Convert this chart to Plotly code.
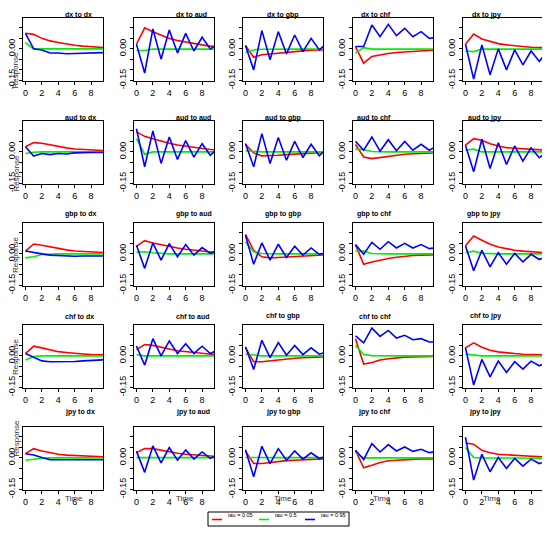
import plotly.graph_objects as go

# horizon 0..10 (the panels clip just past 9)
steps = list(range(11))
names = ["dx", "aud", "gbp", "chf", "jpy"]
taus = ["tau = 0.05", "tau = 0.5", "tau = 0.95"]
y_ticks = [-0.15, -0.10, -0.05, 0.00, 0.05, 0.10]
y_ticktext = ["-0.15", "", "", "0.00", "", ""]
x_ticks = [0, 2, 4, 6, 8]

# responses of each variable (columns) to a shock in the row variable
dx_q05 = [
    [0.074, 0.069, 0.050, 0.038, 0.030, 0.022, 0.017, 0.013, 0.010, 0.007, 0.005],
    [0.022, 0.100, 0.082, 0.066, 0.050, 0.040, 0.032, 0.025, 0.019, 0.013, 0.010],
    [0.016, -0.040, -0.028, -0.024, -0.019, -0.016, -0.013, -0.010, -0.006, -0.005, -0.004],
    [0.011, -0.068, -0.036, -0.028, -0.022, -0.017, -0.014, -0.011, -0.008, -0.006, -0.005],
    [0.022, 0.071, 0.047, 0.035, 0.025, 0.019, 0.014, 0.011, 0.008, 0.006, 0.005],
]
dx_q50 = [
    [0.030, -0.001, 0.000, 0.000, 0.000, 0.000, 0.000, 0.000, 0.000, 0.000, 0.000],
    [-0.008, -0.008, -0.001, -0.001, -0.001, -0.001, -0.001, -0.001, -0.001, -0.001, -0.001],
    [-0.017, -0.005, -0.002, -0.001, -0.001, -0.001, -0.001, -0.001, -0.001, -0.001, -0.001],
    [-0.020, 0.006, -0.001, -0.001, -0.001, -0.001, -0.001, -0.001, -0.001, -0.001, -0.001],
    [-0.010, -0.013, -0.001, -0.001, -0.001, -0.001, -0.001, -0.001, -0.001, -0.001, -0.001],
]
dx_q95 = [
    [0.074, 0.000, -0.005, -0.020, -0.020, -0.023, -0.022, -0.020, -0.017, -0.017, -0.017],
    [0.022, -0.115, 0.095, -0.049, 0.090, -0.020, 0.074, -0.010, 0.055, 0.000, 0.025],
    [0.016, -0.100, 0.087, -0.052, 0.082, -0.024, 0.066, -0.013, 0.050, -0.005, 0.030],
    [0.011, 0.011, 0.114, 0.058, 0.117, 0.063, 0.098, 0.058, 0.082, 0.050, 0.055],
    [0.022, -0.144, 0.019, -0.123, 0.000, -0.100, -0.005, -0.076, -0.010, -0.060, -0.008],
]

aud_q05 = [
    [0.024, 0.044, 0.041, 0.033, 0.025, 0.019, 0.014, 0.012, 0.009, 0.006, 0.005],
    [0.095, 0.074, 0.062, 0.050, 0.041, 0.033, 0.027, 0.022, 0.016, 0.011, 0.009],
    [0.035, -0.005, -0.019, -0.019, -0.016, -0.013, -0.011, -0.009, -0.006, -0.003, -0.002],
    [0.035, -0.024, -0.032, -0.027, -0.019, -0.014, -0.011, -0.009, -0.008, -0.006, -0.005],
    [0.032, 0.063, 0.055, 0.039, 0.028, 0.020, 0.017, 0.014, 0.011, 0.009, 0.008],
]
aud_q50 = [
    [-0.008, -0.002, 0.000, 0.000, 0.000, 0.000, 0.000, 0.000, 0.000, 0.000, 0.000],
    [0.063, -0.011, 0.000, 0.000, 0.000, 0.000, 0.000, 0.000, 0.000, 0.000, 0.000],
    [0.005, 0.002, 0.000, 0.000, 0.000, 0.000, 0.000, 0.000, 0.000, 0.000, 0.000],
    [0.013, 0.010, 0.002, 0.000, 0.000, 0.000, 0.000, 0.000, 0.000, 0.000, 0.000],
    [0.008, 0.013, 0.000, 0.000, 0.000, 0.000, 0.000, 0.000, 0.000, 0.000, 0.000],
]
aud_q95 = [
    [0.024, -0.020, -0.008, -0.013, -0.008, -0.010, -0.005, -0.003, -0.003, -0.003, -0.003],
    [0.110, -0.071, 0.100, -0.055, 0.071, -0.036, 0.054, -0.025, 0.039, -0.016, 0.020],
    [0.040, -0.071, 0.087, -0.055, 0.068, -0.040, 0.050, -0.027, 0.036, -0.019, 0.020],
    [0.050, 0.008, 0.071, 0.003, 0.058, 0.005, 0.050, 0.008, 0.036, 0.008, 0.030],
    [0.032, -0.095, 0.060, -0.079, 0.043, -0.060, 0.028, -0.044, 0.019, -0.028, 0.000],
]

gbp_q05 = [
    [0.013, 0.047, 0.041, 0.033, 0.025, 0.019, 0.014, 0.011, 0.008, 0.006, 0.005],
    [0.036, 0.063, 0.052, 0.043, 0.036, 0.028, 0.022, 0.019, 0.014, 0.009, 0.007],
    [0.093, 0.017, -0.014, -0.019, -0.017, -0.015, -0.013, -0.010, -0.006, -0.005, -0.004],
    [0.044, -0.050, -0.039, -0.030, -0.022, -0.016, -0.011, -0.008, -0.006, -0.005, -0.004],
    [0.039, 0.085, 0.065, 0.046, 0.033, 0.024, 0.017, 0.013, 0.009, 0.006, 0.005],
]
gbp_q50 = [
    [-0.019, -0.014, -0.003, 0.000, 0.000, 0.000, 0.000, 0.000, 0.000, 0.000, 0.000],
    [0.008, 0.010, 0.005, 0.002, 0.000, 0.000, 0.000, 0.000, 0.000, 0.000, 0.000],
    [0.057, 0.010, 0.002, 0.000, 0.000, 0.000, 0.000, 0.000, 0.000, 0.000, 0.000],
    [0.014, 0.013, 0.002, 0.000, 0.000, 0.000, 0.000, 0.000, 0.000, 0.000, 0.000],
    [0.005, 0.013, 0.003, 0.000, 0.000, 0.000, 0.000, 0.000, 0.000, 0.000, 0.000],
]
gbp_q95 = [
    [0.014, 0.006, 0.000, -0.006, -0.008, -0.011, -0.011, -0.010, -0.010, -0.010, -0.010],
    [0.041, -0.069, 0.052, -0.030, 0.049, -0.014, 0.044, -0.006, 0.030, 0.002, 0.020],
    [0.088, -0.049, 0.052, -0.030, 0.046, -0.017, 0.036, -0.006, 0.028, -0.002, 0.005],
    [0.044, -0.002, 0.055, 0.022, 0.058, 0.028, 0.050, 0.028, 0.044, 0.025, 0.030],
    [0.039, -0.080, 0.017, -0.062, 0.006, -0.049, 0.002, -0.038, -0.002, -0.027, -0.010],
]

chf_q05 = [
    [0.011, 0.046, 0.038, 0.028, 0.020, 0.016, 0.011, 0.009, 0.006, 0.005, 0.004],
    [0.030, 0.054, 0.050, 0.043, 0.033, 0.024, 0.019, 0.014, 0.011, 0.006, 0.004],
    [0.039, -0.028, -0.028, -0.024, -0.017, -0.014, -0.011, -0.009, -0.006, -0.005, -0.004],
    [0.082, -0.039, -0.032, -0.020, -0.014, -0.009, -0.006, -0.005, -0.003, -0.003, -0.002],
    [0.038, 0.062, 0.041, 0.027, 0.019, 0.014, 0.011, 0.008, 0.006, 0.005, 0.004],
]
chf_q50 = [
    [-0.020, -0.003, 0.000, 0.000, 0.000, 0.000, 0.000, 0.000, 0.000, 0.000, 0.000],
    [0.005, 0.000, 0.000, 0.000, 0.000, 0.000, 0.000, 0.000, 0.000, 0.000, 0.000],
    [0.009, 0.003, 0.000, 0.000, 0.000, 0.000, 0.000, 0.000, 0.000, 0.000, 0.000],
    [0.050, 0.006, 0.001, 0.000, 0.000, 0.000, 0.000, 0.000, 0.000, 0.000, 0.000],
    [0.009, 0.003, 0.000, 0.000, 0.000, 0.000, 0.000, 0.000, 0.000, 0.000, 0.000],
]
chf_q95 = [
    [0.011, -0.008, -0.024, -0.028, -0.028, -0.028, -0.027, -0.024, -0.021, -0.019, -0.018],
    [0.047, -0.044, 0.082, 0.000, 0.071, 0.011, 0.058, 0.011, 0.046, 0.011, 0.030],
    [0.043, -0.065, 0.074, -0.008, 0.063, 0.003, 0.050, 0.006, 0.038, 0.008, 0.020],
    [0.095, 0.062, 0.132, 0.093, 0.121, 0.085, 0.098, 0.077, 0.082, 0.066, 0.066],
    [0.039, -0.139, -0.017, -0.100, -0.025, -0.079, -0.028, -0.063, -0.025, -0.047, -0.030],
]

jpy_q05 = [
    [0.020, 0.044, 0.033, 0.024, 0.017, 0.013, 0.011, 0.008, 0.006, 0.005, 0.004],
    [0.025, 0.044, 0.044, 0.036, 0.028, 0.022, 0.017, 0.014, 0.011, 0.008, 0.006],
    [0.032, -0.027, -0.027, -0.022, -0.016, -0.013, -0.011, -0.008, -0.006, -0.005, -0.004],
    [0.036, -0.047, -0.035, -0.022, -0.014, -0.011, -0.008, -0.006, -0.005, -0.005, -0.004],
    [0.071, 0.065, 0.036, 0.024, 0.017, 0.014, 0.011, 0.009, 0.008, 0.006, 0.005],
]
jpy_q50 = [
    [-0.011, -0.006, -0.002, 0.000, 0.000, 0.000, 0.000, 0.000, 0.000, 0.000, 0.000],
    [0.001, 0.001, 0.001, 0.001, 0.001, 0.001, 0.001, 0.001, 0.001, 0.001, 0.001],
    [0.002, 0.001, 0.001, 0.001, 0.001, 0.001, 0.001, 0.001, 0.001, 0.001, 0.001],
    [0.025, 0.000, 0.000, 0.000, 0.000, 0.000, 0.000, 0.000, 0.000, 0.000, 0.000],
    [0.049, 0.002, 0.000, 0.000, 0.000, 0.000, -0.001, -0.001, -0.001, -0.002, -0.002],
]
jpy_q95 = [
    [0.020, 0.014, 0.002, -0.009, -0.009, -0.010, -0.010, -0.009, -0.009, -0.009, -0.009],
    [0.032, -0.069, 0.057, -0.024, 0.049, -0.011, 0.038, -0.006, 0.028, -0.002, 0.015],
    [0.039, -0.090, 0.055, -0.027, 0.044, -0.011, 0.033, -0.006, 0.024, -0.003, 0.010],
    [0.036, -0.008, 0.068, 0.028, 0.063, 0.033, 0.052, 0.031, 0.041, 0.025, 0.030],
    [0.099, -0.106, 0.017, -0.066, 0.002, -0.050, -0.003, -0.039, -0.006, -0.027, -0.015],
]

responses = {
    "dx": (dx_q05, dx_q50, dx_q95),
    "aud": (aud_q05, aud_q50, aud_q95),
    "gbp": (gbp_q05, gbp_q50, gbp_q95),
    "chf": (chf_q05, chf_q50, chf_q95),
    "jpy": (jpy_q05, jpy_q50, jpy_q95),
}
colors = ["#FF0000", "#00EE00", "#0000FF"]

# the page body adds an 8px margin, so lay out in page pixels and shift
PAD = 8
W, H = 550 - PAD, 534 - PAD
col_left = [23, 134, 243, 353, 463]
row_top = [18, 121, 223, 325, 427]
pw, ph = 80, 63


def px_x(v):
    return (v - PAD) / W


def px_y(v):
    return 1 - (v - PAD) / H


fig = go.Figure()
annotations = []
shapes = []
axis_style = dict(showline=True, linecolor="black", linewidth=1, mirror=True,
                  ticks="outside", ticklen=3, tickcolor="black", showgrid=False,
                  zeroline=False, automargin=False,
                  tickfont=dict(size=9, color="black"))

for r, shock in enumerate(names):
    for c, target in enumerate(names):
        k = r * 5 + c + 1
        xa = "x" if k == 1 else f"x{k}"
        ya = "y" if k == 1 else f"y{k}"
        # red, green, then blue on top
        for q in range(3):
            fig.add_trace(go.Scatter(
                x=steps, y=responses[shock][q][c], mode="lines",
                line=dict(color=colors[q], width=1.6),
                name=taus[q], showlegend=False,
                xaxis=xa, yaxis=ya, hoverinfo="skip"))
        x0 = px_x(col_left[c])
        x1 = px_x(col_left[c] + pw)
        y1 = px_y(row_top[r])
        y0 = px_y(row_top[r] + ph)
        fig.layout[f"xaxis{'' if k == 1 else k}"] = dict(
            domain=[x0, x1], anchor=ya, range=[-0.3, 9.45],
            tickvals=x_ticks, **axis_style)
        fig.layout[f"yaxis{'' if k == 1 else k}"] = dict(
            domain=[y0, y1], anchor=xa, range=[-0.153, 0.147],
            tickvals=y_ticks, ticktext=y_ticktext, tickangle=-90, **axis_style)
        annotations.append(dict(
            text=f"<b>{shock} to {target}</b>", x=(x0 + x1) / 2,
            y=px_y(row_top[r] - 9), xref="paper", yref="paper",
            showarrow=False, font=dict(size=7, color="black")))
        if c == 0:
            annotations.append(dict(
                text="Response", x=px_x(9), y=(y0 + y1) / 2, xref="paper",
                yref="paper", showarrow=False, textangle=-90,
                font=dict(size=8, color="#333333")))
        if r == 4:
            annotations.append(dict(
                text="Time", x=(x0 + x1) / 2, y=px_y(505), xref="paper",
                yref="paper", showarrow=False,
                font=dict(size=8, color="#333333")))

# legend box drawn by hand, like R's legend() under the grid
shapes.append(dict(type="rect", xref="paper", yref="paper",
                   x0=px_x(208), x1=px_x(349), y0=px_y(526), y1=px_y(512),
                   line=dict(color="black", width=1), fillcolor="white"))
leg_line_x = [212, 259, 305]
for q in range(3):
    lx = leg_line_x[q]
    shapes.append(dict(type="line", xref="paper", yref="paper",
                       x0=px_x(lx), x1=px_x(lx + 10), y0=px_y(519.5),
                       y1=px_y(519.5), line=dict(color=colors[q], width=1.6)))
    annotations.append(dict(
        text=taus[q], x=px_x(lx + 14), y=px_y(519.5), xref="paper",
        yref="paper", xanchor="left", showarrow=False,
        font=dict(size=5.5, color="black")))

fig.update_layout(
    width=W, height=H,
    margin=dict(l=0, r=0, t=0, b=0, autoexpand=False),
    plot_bgcolor="white", paper_bgcolor="white",
    font=dict(family="Liberation Sans, Arial, sans-serif", color="black"),
    annotations=annotations,
    shapes=shapes,
    showlegend=False,
)

fig.write_html("out.html")
